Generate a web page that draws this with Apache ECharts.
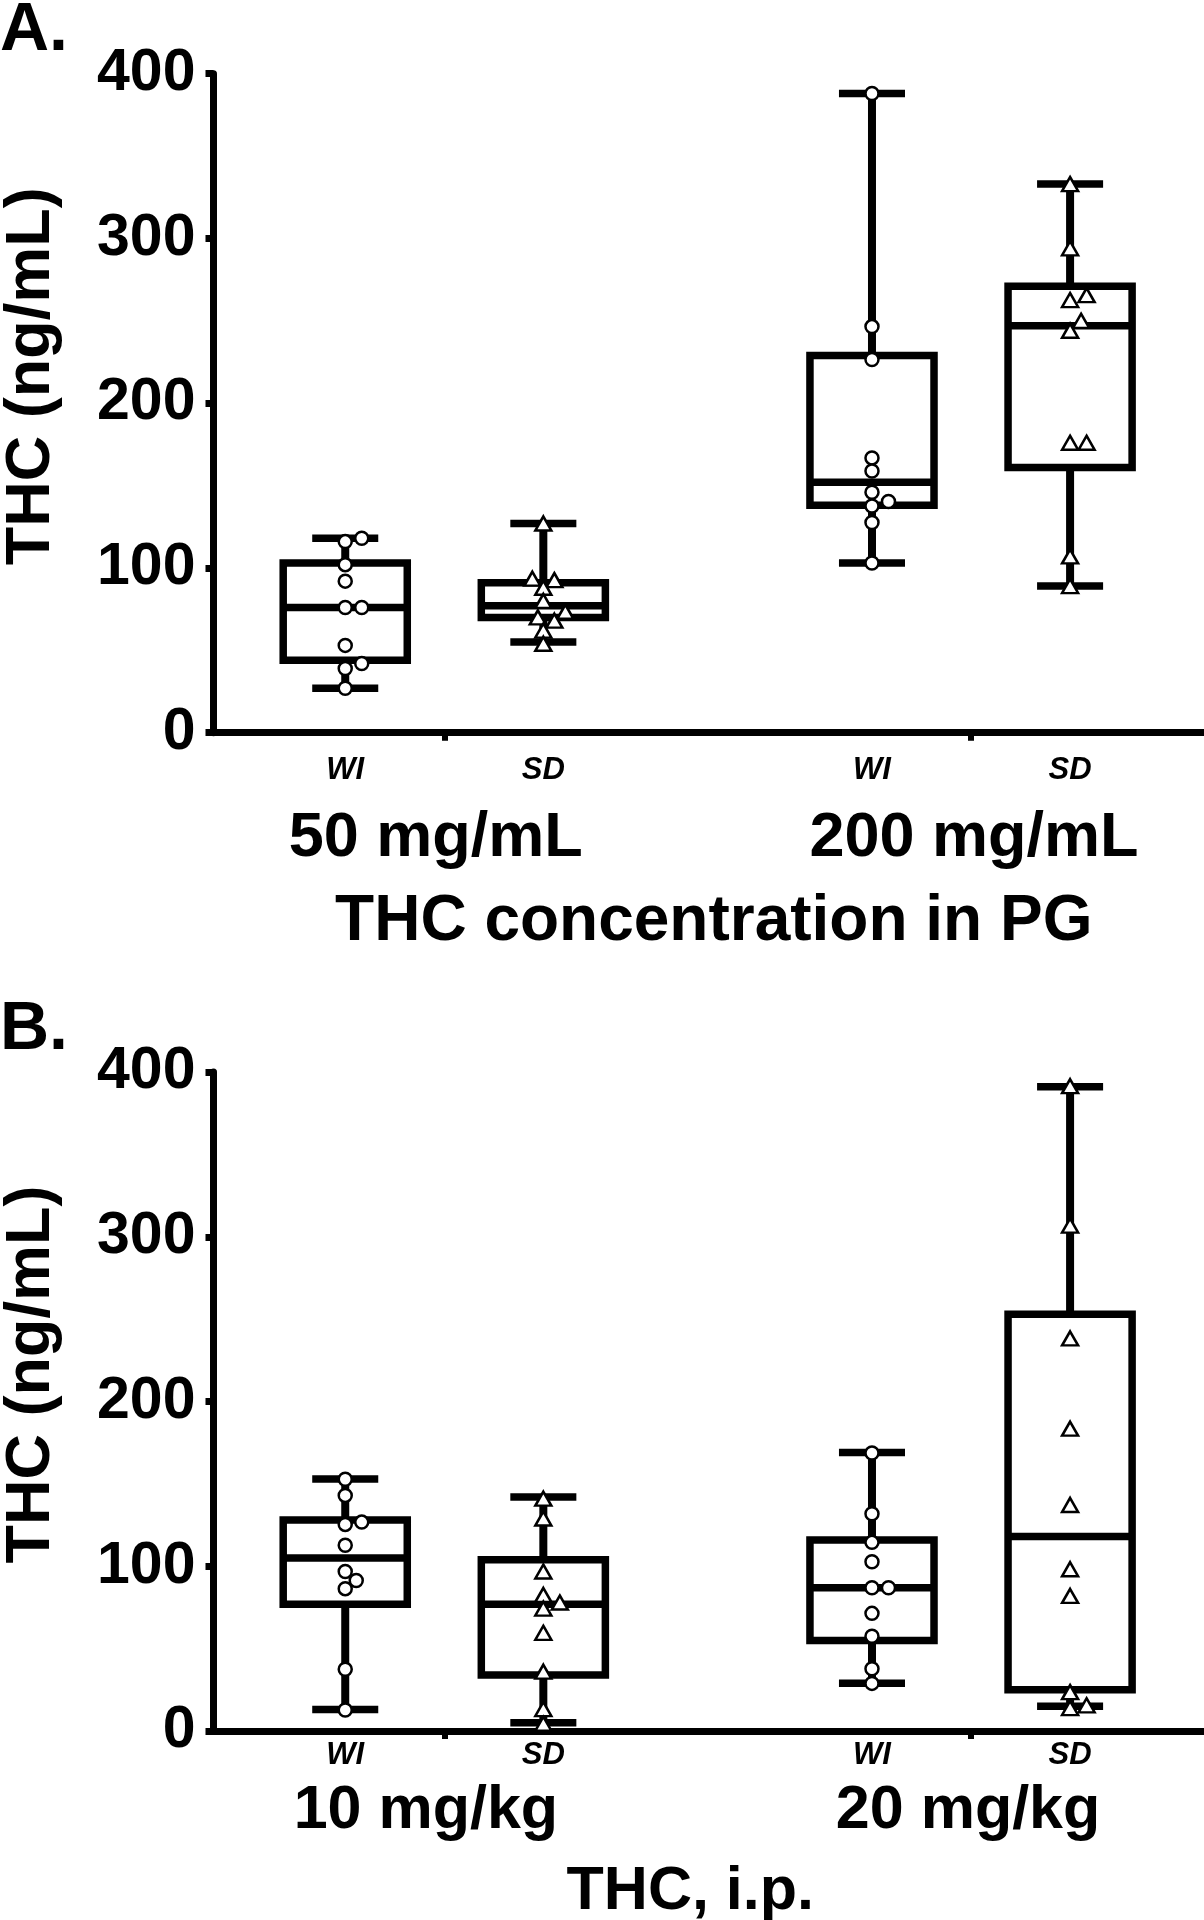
<!DOCTYPE html>
<html><head><meta charset="utf-8">
<script src="https://cdn.jsdelivr.net/npm/echarts@6/dist/echarts.min.js"></script>
<style>html,body{margin:0;padding:0;background:#fff}#chart{width:1204px;height:1920px}</style>
</head><body><div id="chart"></div>
<script>
// ================= DATA =================
const strains = ['WI', 'SD'];
const groupsA = ['50 mg/mL', '200 mg/mL'];
const groupsB = ['10 mg/kg', '20 mg/kg'];
const xTitleA = 'THC concentration in PG';
const xTitleB = 'THC, i.p.';
const yTitle = 'THC (ng/mL)';
const yTicks = [0, 100, 200, 300, 400];

// box statistics: [min, Q1, median, Q3, max]
const boxA_50_WI  = [27, 44, 76, 103, 118];
const boxA_50_SD  = [55, 70, 77, 91, 127];
const boxA_200_WI = [103, 138, 152, 229, 388];
const boxA_200_SD = [89, 161, 247, 271, 333];
const boxB_10_WI  = [13, 77, 105, 128, 153];
const boxB_10_SD  = [5, 34, 77, 104, 142];
const boxB_20_WI  = [29, 55, 87, 116, 169];
const boxB_20_SD  = [15, 25, 118, 253, 391];

// individual animals
const ptsA_50_WI  = [118, 116, 102, 92, 76, 76, 53, 42, 39, 27];
const ptsA_50_SD  = [127, 93.5, 92.6, 88, 80, 73.5, 70, 68, 62, 54];
const ptsA_200_WI = [388, 246.5, 226.5, 166.8, 158.8, 146, 140.3, 137.6, 127.6, 103];
const ptsA_200_SD = [333, 294, 265.6, 262.6, 250, 244, 176, 176, 107, 89];
const ptsB_10_WI  = [152.8, 143, 126.8, 125.4, 112.7, 96.8, 91.4, 86.4, 37.5, 12.7];
const ptsB_10_SD  = [141, 129, 96.8, 82.6, 78, 74.3, 59.6, 36, 13.3, 4.4];
const ptsB_20_WI  = [168.7, 131.9, 114.5, 102.7, 87, 87, 71.4, 57.5, 37.8, 28.9];
const ptsB_20_SD  = [391.4, 306.8, 238.3, 183.5, 137.2, 98.2, 82, 23.6, 15.6, 13.9];

// ================= LAYOUT / STYLE =================
const FONT = 'Liberation Sans, Arial, Helvetica, sans-serif';
const GRID_LEFT = 213.5, GRID_H = 659;
const PX_PER_X = 198;              // pixels per x unit (strain spacing)
const GAP = 2.659;                 // distance between group centres (x units)
const X_MIN = -1.165, X_MAX = 3.835;
const BOX_W = 124 / PX_PER_X, CAP_W = 66 / PX_PER_X;
const PX_PER_Y = GRID_H / 400;
const strainOffset = [-0.5, 0.5];
const groupCentre = [0, GAP];

function swarm(values) {
  const diam = 13, step = 5.5;
  const order = values.map((v, i) => i).sort((a, b) => values[a] - values[b]);
  const placed = [];
  const offs = new Array(values.length).fill(0);
  for (const i of order) {
    const y = values[i] * PX_PER_Y;
    for (let k = 0; k < 60; k++) {
      const m = k === 0 ? 0 : (k % 2 ? Math.ceil(k / 2) : -k / 2);
      const x = m * step;
      if (placed.every(p => Math.hypot(p.x - x, p.y - y) >= diam)) {
        placed.push({ x, y }); offs[i] = x / PX_PER_X; break;
      }
    }
  }
  return offs;
}

function renderBox(params, api) {
  const x = api.value(0);
  const c = v => api.coord([x, v]);
  const pMin = c(api.value(1)), pQ1 = c(api.value(2)), pMed = c(api.value(3)),
        pQ3 = c(api.value(4)), pMax = c(api.value(5));
  const cx = pMin[0];
  const hb = api.size([BOX_W, 0])[0] / 2;
  const hc = api.size([CAP_W, 0])[0] / 2;
  const s = { stroke: '#000', lineWidth: 7.5, fill: null };
  return {
    type: 'group',
    children: [
      { type: 'line', shape: { x1: cx, y1: pMin[1], x2: cx, y2: pQ1[1] }, style: { stroke: '#000', lineWidth: 8 } },
      { type: 'line', shape: { x1: cx, y1: pQ3[1], x2: cx, y2: pMax[1] }, style: { stroke: '#000', lineWidth: 8 } },
      { type: 'line', shape: { x1: cx - hc, y1: pMin[1], x2: cx + hc, y2: pMin[1] }, style: s },
      { type: 'line', shape: { x1: cx - hc, y1: pMax[1], x2: cx + hc, y2: pMax[1] }, style: s },
      { type: 'rect', shape: { x: cx - hb, y: pQ3[1], width: 2 * hb, height: pQ1[1] - pQ3[1] }, style: { stroke: '#000', lineWidth: 7.5, fill: '#fff' } },
      { type: 'line', shape: { x1: cx - hb, y1: pMed[1], x2: cx + hb, y2: pMed[1] }, style: s }
    ]
  };
}

const panels = [
  { top: 73.7, groups: groupsA, title: xTitleA, groupLabelPos: [-0.043, GAP + 0.015],
    boxes: [[boxA_50_WI, boxA_50_SD], [boxA_200_WI, boxA_200_SD]],
    pts: [[ptsA_50_WI, ptsA_50_SD], [ptsA_200_WI, ptsA_200_SD]],
    strainMargin: 22, groupMargin: 74, groupFont: 63, nameGap: 158, nameFont: 64, namePad: [0, 0, 0, 10] },
  { top: 1072, groups: groupsB, title: xTitleB, groupLabelPos: [-0.093, GAP - 0.015],
    boxes: [[boxB_10_WI, boxB_10_SD], [boxB_20_WI, boxB_20_SD]],
    pts: [[ptsB_10_WI, ptsB_10_SD], [ptsB_20_WI, ptsB_20_SD]],
    strainMargin: 9, groupMargin: 50, groupFont: 61, nameGap: 131, nameFont: 61, namePad: [0, 37, 0, 0] }
];

const grid = [], xAxis = [], yAxis = [], series = [];
const strainPos = [], strainMap = {};
groupCentre.forEach(g => strains.forEach((st, si) => {
  const v = g + strainOffset[si];
  strainPos.push(v); strainMap[v.toFixed(3)] = st;
}));

panels.forEach((p, pi) => {
  grid.push({ left: GRID_LEFT, right: 0, top: p.top, height: GRID_H, containLabel: false, outerBoundsMode: 'none' });
  const groupMap = {};
  p.groupLabelPos.forEach((g, gi) => groupMap[g.toFixed(3)] = p.groups[gi]);
  xAxis.push({
    type: 'value', gridIndex: pi, min: X_MIN, max: X_MAX, position: 'bottom', offset: 0,
    axisLine: { show: true, onZero: false, lineStyle: { color: '#000', width: 7 } },
    axisTick: { show: true, customValues: groupCentre, length: 8, lineStyle: { color: '#000', width: 6 } },
    axisLabel: { customValues: strainPos, formatter: v => strainMap[v.toFixed(3)] || '',
      fontSize: 31, fontWeight: 'bold', fontStyle: 'italic', color: '#000', fontFamily: FONT, margin: p.strainMargin },
    splitLine: { show: false }
  });
  xAxis.push({
    type: 'value', gridIndex: pi, min: X_MIN, max: X_MAX, position: 'bottom', offset: 0,
    axisLine: { show: false }, axisTick: { show: false }, splitLine: { show: false },
    axisLabel: { customValues: p.groupLabelPos, formatter: v => groupMap[v.toFixed(3)] || '',
      fontSize: p.groupFont, fontWeight: 'bold', color: '#000', fontFamily: FONT, margin: p.groupMargin },
    name: p.title, nameLocation: 'middle', nameGap: p.nameGap,
    nameTextStyle: { fontSize: p.nameFont, fontWeight: 'bold', color: '#000', fontFamily: FONT, padding: p.namePad }
  });
  yAxis.push({
    type: 'value', gridIndex: pi, min: 0, max: 400, interval: 100,
    axisLine: { show: true, onZero: false, lineStyle: { color: '#000', width: 7 } },
    axisTick: { show: true, customValues: yTicks, length: 8, lineStyle: { color: '#000', width: 7 } },
    axisLabel: { customValues: yTicks, fontSize: 59, fontWeight: 'bold', color: '#000', fontFamily: FONT, margin: 18 },
    splitLine: { show: false },
    name: yTitle, nameLocation: 'middle', nameGap: 150,
    nameTextStyle: { fontSize: 63, fontWeight: 'bold', color: '#000', fontFamily: FONT, padding: [0, 0, 0, 54] }
  });
  const boxData = [];
  p.boxes.forEach((gb, gi) => gb.forEach((b, si) => boxData.push([groupCentre[gi] + strainOffset[si], ...b])));
  series.push({
    type: 'custom', xAxisIndex: pi * 2, yAxisIndex: pi, renderItem: renderBox,
    encode: { x: 0, y: [1, 2, 3, 4, 5] }, data: boxData, z: 2, clip: false
  });
  p.pts.forEach((gp, gi) => gp.forEach((vals, si) => {
    const offs = swarm(vals);
    const xc = groupCentre[gi] + strainOffset[si];
    series.push({
      type: 'scatter', xAxisIndex: pi * 2, yAxisIndex: pi, z: 5,
      symbol: si === 0 ? 'circle' : 'triangle',
      symbolSize: si === 0 ? 13 : [16, 14],
      itemStyle: { color: '#fff', borderColor: '#000', borderWidth: 2.5, opacity: 1 },
      data: vals.map((v, i) => [xc + offs[i], v]),
      clip: false
    });
  }));
});

const chart = echarts.init(document.getElementById('chart'), null, { renderer: 'canvas' });
chart.setOption({
  animation: false,
  backgroundColor: '#fff',
  grid, xAxis, yAxis, series,
  graphic: [
    { type: 'text', left: 0, top: -3, style: { text: 'A.', font: 'bold 68px ' + FONT, fill: '#000' } },
    { type: 'text', left: 0, top: 996, style: { text: 'B.', font: 'bold 68px ' + FONT, fill: '#000' } }
  ]
});
</script></body></html>
